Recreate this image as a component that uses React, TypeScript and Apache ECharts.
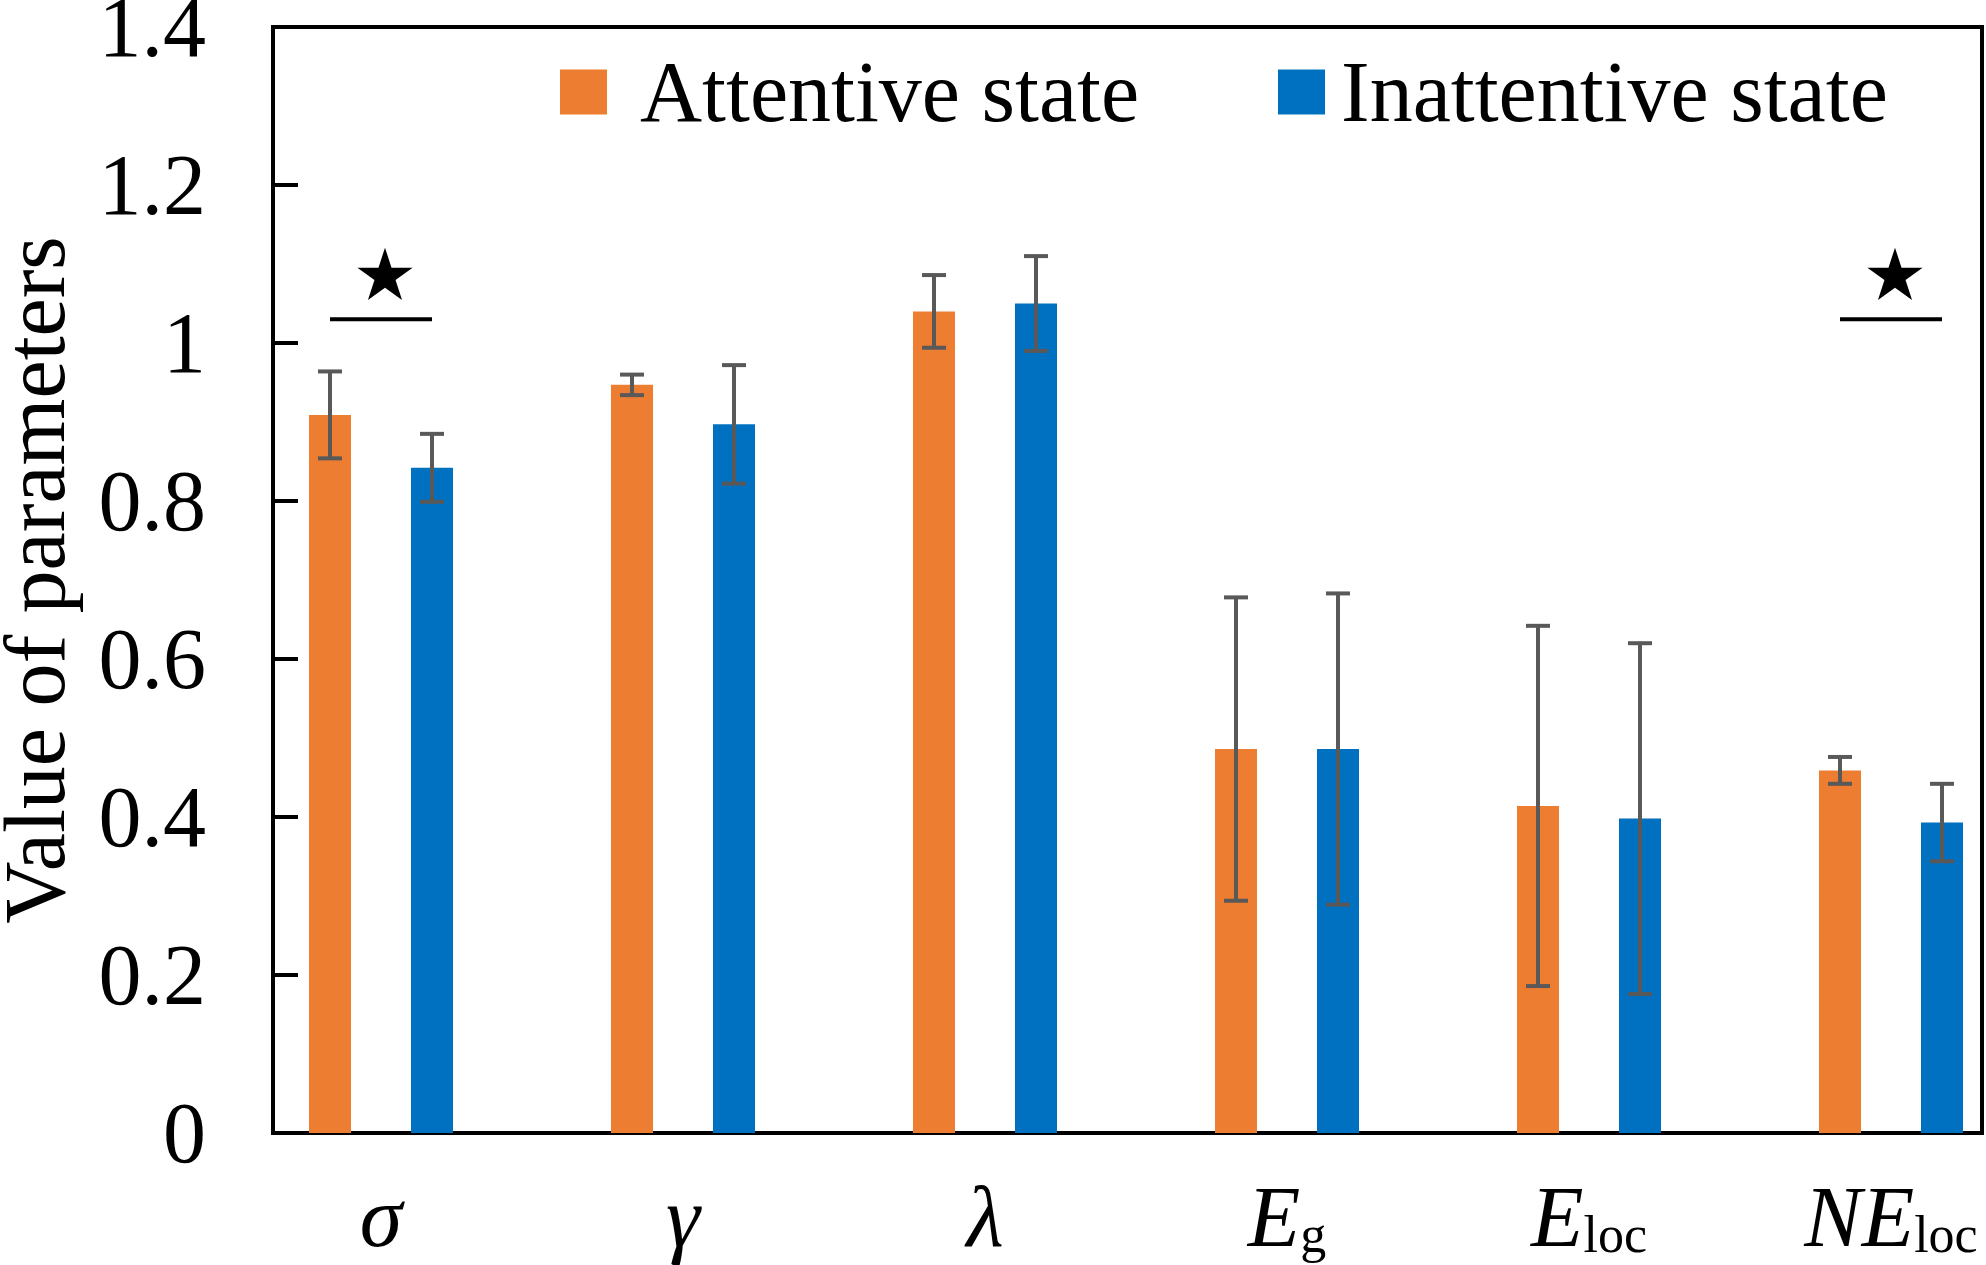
import React, { useEffect, useRef } from "react";
import * as echarts from "echarts";

const FONT = "'Times New Roman', 'Liberation Serif', serif";

// ---- data ----
const categories = ["σ", "γ", "λ", "Eg", "Eloc", "NEloc"];
const labelMain = ["σ", "γ", "λ", "E", "E", "NE"];
const labelSub = ["", "", "", "g", "loc", "loc"];
const seriesNames = ["Attentive state", "Inattentive state"];
const attentive = [0.909, 0.947, 1.04, 0.486, 0.414, 0.459];
const attentiveErr = [0.055, 0.013, 0.046, 0.192, 0.228, 0.017];
const inattentive = [0.842, 0.897, 1.05, 0.486, 0.398, 0.393];
const inattentiveErr = [0.043, 0.075, 0.06, 0.197, 0.222, 0.049];
const yMin = 0;
const yMax = 1.4;
const yStep = 0.2;
const significantGroups = [0, 5];
const sigLineValue = 1.03;
const sigStarValue = 1.084;

// ---- styles ----
const ORANGE = "#ED7D31";
const BLUE = "#0070C0";
const ERR_COLOR = "#595959";
const BAR_W = 42;
const BAR_GAP_PX = 60;
const HALF_OFF = (BAR_W + BAR_GAP_PX) / 2;

function errorSeries(values: number[], errs: number[], sign: number) {
  return {
    type: "custom",
    xAxisIndex: 1,
    yAxisIndex: 1,
    z: 5,
    clip: false,
    silent: true,
    encode: { x: 0, y: 1 },
    data: values.map((v, i) => [i, v, errs[i]]),
    renderItem: (params: any, api: any) => {
      const cat = api.value(0);
      const mean = api.value(1);
      const err = api.value(2);
      const c = api.coord([cat, mean]);
      const x = c[0] + sign * HALF_OFF;
      const yt = api.coord([cat, mean + err])[1];
      const yb = api.coord([cat, mean - err])[1];
      const cap = 12;
      const st = { stroke: ERR_COLOR, lineWidth: 4 };
      return {
        type: "group",
        children: [
          { type: "line", shape: { x1: x, y1: yt, x2: x, y2: yb }, style: st },
          { type: "line", shape: { x1: x - cap, y1: yt, x2: x + cap, y2: yt }, style: st },
          { type: "line", shape: { x1: x - cap, y1: yb, x2: x + cap, y2: yb }, style: st },
        ],
      };
    },
  };
}

function starPoints(cx: number, cy: number, R: number) {
  const r = R * 0.382;
  const pts: number[][] = [];
  for (let k = 0; k < 10; k++) {
    const ang = -Math.PI / 2 + (k * Math.PI) / 5;
    const rad = k % 2 === 0 ? R : r;
    pts.push([cx + rad * Math.cos(ang), cy + rad * Math.sin(ang)]);
  }
  return pts;
}

function legendFor(name: string, left: number, textPad: number) {
  return {
    data: [name],
    left,
    top: 49,
    padding: 0,
    icon: "rect",
    itemWidth: 47,
    itemHeight: 45,
    textStyle: {
      fontFamily: FONT,
      fontSize: 86,
      lineHeight: 86,
      color: "#000",
      padding: [0, 0, 0, textPad],
    },
  };
}

export default function App() {
  const ref = useRef<HTMLDivElement>(null);
  useEffect(() => {
    if (!ref.current) return;
    const chart = echarts.init(ref.current, undefined, { renderer: "svg" });
    const gridTop = 27;
    const gridBottom = 1265 - 1133;
    chart.setOption({
      animation: false,
      backgroundColor: "#fff",
      legend: [legendFor(seriesNames[0], 560, 28), legendFor(seriesNames[1], 1278, 11)],
      grid: [
        {
          left: 273,
          width: 1709,
          top: gridTop,
          bottom: gridBottom,
          show: true,
          borderColor: "#000",
          borderWidth: 4,
          backgroundColor: "transparent",
          containLabel: false,
          outerBoundsMode: "none",
        },
        {
          left: 230,
          width: 1812,
          top: gridTop,
          bottom: gridBottom,
          containLabel: false,
          outerBoundsMode: "none",
        },
      ],
      xAxis: [
        { type: "category", gridIndex: 0, data: categories, show: false },
        {
          type: "category",
          gridIndex: 1,
          data: categories,
          axisLine: { show: false },
          axisTick: { show: false },
          axisLabel: {
            margin: 47,
            interval: 0,
            formatter: (_v: string, i: number) =>
              labelSub[i] ? `{m|${labelMain[i]}}{s|${labelSub[i]}}` : `{m|${labelMain[i]}}`,
            rich: {
              m: {
                fontFamily: FONT,
                fontSize: 86,
                fontStyle: "italic",
                color: "#000",
                lineHeight: 80,
                verticalAlign: "bottom",
              },
              s: {
                fontFamily: FONT,
                fontSize: 52,
                color: "#000",
                verticalAlign: "bottom",
              },
            },
          },
        },
      ],
      yAxis: [
        {
          type: "value",
          gridIndex: 0,
          min: yMin,
          max: yMax,
          interval: yStep,
          name: "Value of parameters",
          nameLocation: "middle",
          nameRotate: 90,
          nameGap: 195,
          nameTextStyle: { fontFamily: FONT, fontSize: 86, color: "#000" },
          axisLine: { show: false },
          axisTick: { show: true, inside: true, length: 25, lineStyle: { color: "#000", width: 4 } },
          splitLine: { show: false },
          axisLabel: {
            margin: 67,
            fontFamily: FONT,
            fontSize: 86,
            color: "#000",
            formatter: (v: number) => String(+v.toFixed(1)),
          },
        },
        {
          type: "value",
          gridIndex: 1,
          min: yMin,
          max: yMax,
          interval: yStep,
          show: false,
          splitLine: { show: false },
        },
      ],
      series: [
        {
          name: seriesNames[0],
          type: "bar",
          xAxisIndex: 1,
          yAxisIndex: 1,
          data: attentive,
          barWidth: BAR_W,
          barGap: `${(BAR_GAP_PX / BAR_W) * 100}%`,
          itemStyle: { color: ORANGE },
        },
        {
          name: seriesNames[1],
          type: "bar",
          xAxisIndex: 1,
          yAxisIndex: 1,
          data: inattentive,
          barWidth: BAR_W,
          barGap: `${(BAR_GAP_PX / BAR_W) * 100}%`,
          itemStyle: { color: BLUE },
        },
        errorSeries(attentive, attentiveErr, -1),
        errorSeries(inattentive, inattentiveErr, 1),
        {
          type: "custom",
          xAxisIndex: 1,
          yAxisIndex: 1,
          z: 6,
          clip: false,
          silent: true,
          encode: { x: 0, y: 1 },
          data: significantGroups.map((g) => [g, sigLineValue, sigStarValue]),
          renderItem: (params: any, api: any) => {
            const cat = api.value(0);
            const ly = api.coord([cat, api.value(1)])[1];
            const sc = api.coord([cat, api.value(2)]);
            const cx = sc[0];
            return {
              type: "group",
              children: [
                {
                  type: "line",
                  shape: { x1: cx - HALF_OFF, y1: ly, x2: cx + HALF_OFF, y2: ly },
                  style: { stroke: "#000", lineWidth: 4 },
                },
                {
                  type: "polygon",
                  shape: { points: starPoints(cx + 4, sc[1], 29) },
                  style: { fill: "#000" },
                },
              ],
            };
          },
        },
      ],
    });
    return () => chart.dispose();
  }, []);
  return (
    <div
      ref={ref}
      style={{ position: "absolute", left: 0, top: 0, width: 1986, height: 1265, background: "#fff" }}
    />
  );
}
